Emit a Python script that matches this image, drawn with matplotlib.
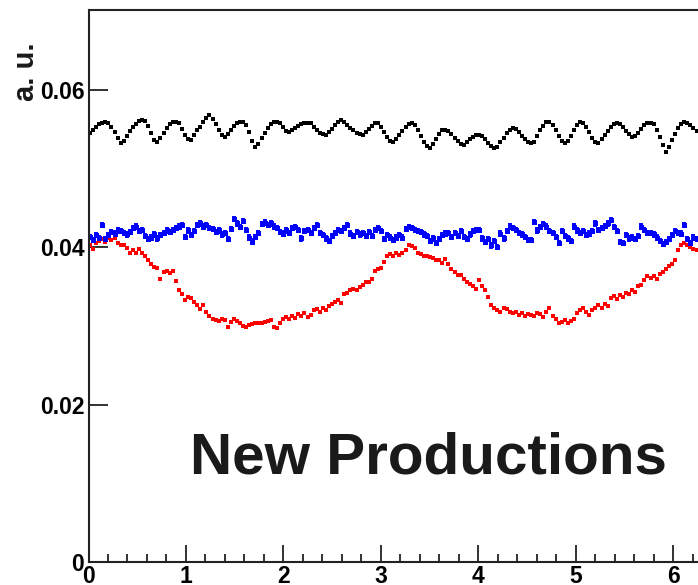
import numpy as np
import matplotlib
matplotlib.use("Agg")
import matplotlib.pyplot as plt
from matplotlib.ticker import MultipleLocator

# values in units of 1e-4 (a.u.), 200 bins over 0..2pi
black_vals = [545, 549, 553, 556, 558, 559, 558, 553, 546, 538, 532,
              535, 541, 547, 552, 556, 560, 561, 560, 554, 545, 536, 533,
              539, 545, 551, 556, 559, 559, 557, 550, 542, 537, 536,
              542, 548, 553, 559, 564, 568, 563, 556, 548, 542, 540,
              544, 549, 554, 558, 559, 559, 555, 546, 535, 527, 531,
              538, 545, 551, 556, 559, 559, 557, 552, 547, 546,
              548, 551, 554, 556, 557, 557, 557, 553, 548, 545, 543, 542,
              546, 550, 555, 559, 561, 559, 555, 551, 548, 545, 543, 542,
              546, 550, 554, 557, 557, 552, 546, 540, 535, 533,
              537, 542, 547, 552, 556, 557, 555, 549, 541, 533, 528, 526,
              531, 537, 543, 548, 549, 547, 543, 539, 535, 531, 530,
              533, 537, 540, 542, 542, 541, 537, 532, 528, 526, 527,
              533, 539, 545, 549, 551, 550, 546, 541, 537, 534, 532, 534,
              541, 548, 554, 559, 559, 555, 548, 541, 535, 532, 535,
              541, 548, 555, 559, 558, 553, 546, 539, 534, 532,
              537, 542, 547, 552, 556, 557, 556, 552, 547, 543, 540, 541,
              545, 550, 555, 557, 557, 556, 549, 540, 530, 521, 527,
              536, 544, 551, 556, 559, 558, 555, 551, 547, 545]

blue_vals = [413, 409, 415, 411, 428, 410, 415, 419, 417, 421,
             420, 418, 416, 419, 424, 426, 420, 422, 414, 410,
             412, 416, 411, 415, 418, 421, 419, 422, 424, 426,
             428, 413, 421, 415, 420, 428, 430, 426, 428, 424,
             423, 419, 421, 416, 418, 410, 423, 436, 430, 425,
             433, 422, 412, 407, 413, 418, 429, 431, 428, 430,
             426, 424, 419, 417, 421, 418, 424, 425, 422, 411,
             420, 422, 418, 424, 428, 418, 415, 411, 408, 414,
             418, 422, 420, 424, 428, 417, 414, 419, 416, 418,
             414, 419, 414, 422, 424, 420, 410, 415, 412, 409,
             412, 415, 412, 423, 425, 424, 422, 420, 419, 416,
             414, 408, 411, 405, 410, 415, 417, 418, 413, 418,
             414, 420, 413, 410, 416, 420, 422, 422, 411, 406,
             410, 402, 408, 400, 417, 411, 420, 426, 424, 422,
             418, 416, 413, 409, 409, 432, 421, 425, 429, 426,
             420, 418, 413, 405, 420, 414, 411, 408, 426, 421,
             418, 420, 415, 417, 420, 430, 422, 424, 427, 430,
             434, 425, 420, 406, 405, 415, 411, 412, 410, 414,
             426, 422, 418, 418, 416, 412, 408, 404, 406, 410,
             415, 420, 418, 417, 428, 410, 405, 412, 410, 413]

red_vals = [403, 398, 405, 408, 410, 407, 411, 409, 412, 405,
            402, 403, 399, 392, 396, 393, 398, 392, 388, 384,
            379, 374, 373, 360, 368, 370, 367, 369, 357, 346,
            340, 333, 337, 335, 330, 327, 321, 326, 318, 312,
            309, 307, 306, 308, 307, 299, 305, 308, 306, 303,
            300, 298, 301, 302, 303, 304, 303, 305, 306, 307,
            299, 297, 303, 309, 311, 308, 313, 310, 315, 313,
            316, 311, 314, 320, 321, 318, 323, 320, 325, 328,
            330, 333, 329, 340, 342, 345, 347, 346, 349, 352,
            355, 356, 359, 370, 372, 373, 381, 388, 391, 389,
            392, 390, 393, 396, 402, 401, 399, 392, 391, 388,
            389, 387, 386, 383, 384, 380, 385, 378, 372, 368,
            364, 365, 359, 356, 353, 350, 347, 358, 351, 346,
            337, 327, 322, 320, 318, 323, 321, 318, 316, 317,
            314, 316, 313, 315, 314, 312, 316, 315, 311, 318,
            322, 313, 309, 303, 305, 307, 304, 306, 308, 316,
            320, 323, 318, 314, 320, 322, 326, 323, 328, 325,
            335, 338, 334, 339, 336, 342, 340, 345, 343, 350,
            352, 358, 363, 361, 363, 360, 366, 368, 372, 376,
            378, 384, 396, 402, 405, 403, 400, 398, 396, 399]

blue_err = 4  # same units

x_tick_labels = ['0', '1', '2', '3', '4', '5', '6']
y_tick_labels = ['0', '0.02', '0.04', '0.06']


def bin_centres(vals):
    n = len(vals)
    return (np.arange(n) + 0.5) * 2 * np.pi / n


plt.rcParams['font.family'] = ['Liberation Sans', 'DejaVu Sans']
plt.rcParams['font.weight'] = 'bold'

fig = plt.figure(figsize=(6.98, 5.85), dpi=100)
ax = fig.add_axes([88.5 / 698, 1 - 562 / 585, 612.6 / 698, 552 / 585])

scale = 1e-4
ax.errorbar(bin_centres(blue_vals), np.array(blue_vals) * scale,
            yerr=blue_err * scale, fmt='s', color='#0000ff', ms=3.6,
            mew=0, elinewidth=2.8, capsize=0)
ax.plot(bin_centres(red_vals), np.array(red_vals) * scale, 's',
        color='#ff0000', ms=2.9, mew=0)
ax.plot(bin_centres(black_vals), np.array(black_vals) * scale, 's',
        color='black', ms=2.7, mew=0)

ax.set_xlim(0, 2 * np.pi)
ax.set_ylim(0, 0.0701)

ax.set_xticks(range(len(x_tick_labels)))
ax.set_xticklabels(x_tick_labels)
ax.xaxis.set_minor_locator(MultipleLocator(0.2))
ax.set_yticks([0, 0.02, 0.04, 0.06])
ax.set_yticklabels(y_tick_labels)

ax.tick_params(axis='both', which='both', direction='in', labelsize=16.5,
               color='#222222', width=1.3)
ax.tick_params(axis='x', which='major', length=12, pad=2)
ax.tick_params(axis='x', which='minor', length=6)
ax.tick_params(axis='y', which='major', length=13.5, pad=3)
ax.tick_params(top=False, right=False)

for sp in ax.spines.values():
    sp.set_linewidth(1.5)
    sp.set_color('#222222')

ax.text(1.04, 0.0113, 'New Productions', fontsize=42, fontweight='bold',
        color='#1a1a1a', va='baseline', ha='left')

fig.text(26 / 698, 1 - 42 / 585, 'a. u.', rotation=90, fontsize=21,
         fontweight='bold', ha='center', va='top', color='#1a1a1a')

fig.savefig('out.png', dpi=100)
